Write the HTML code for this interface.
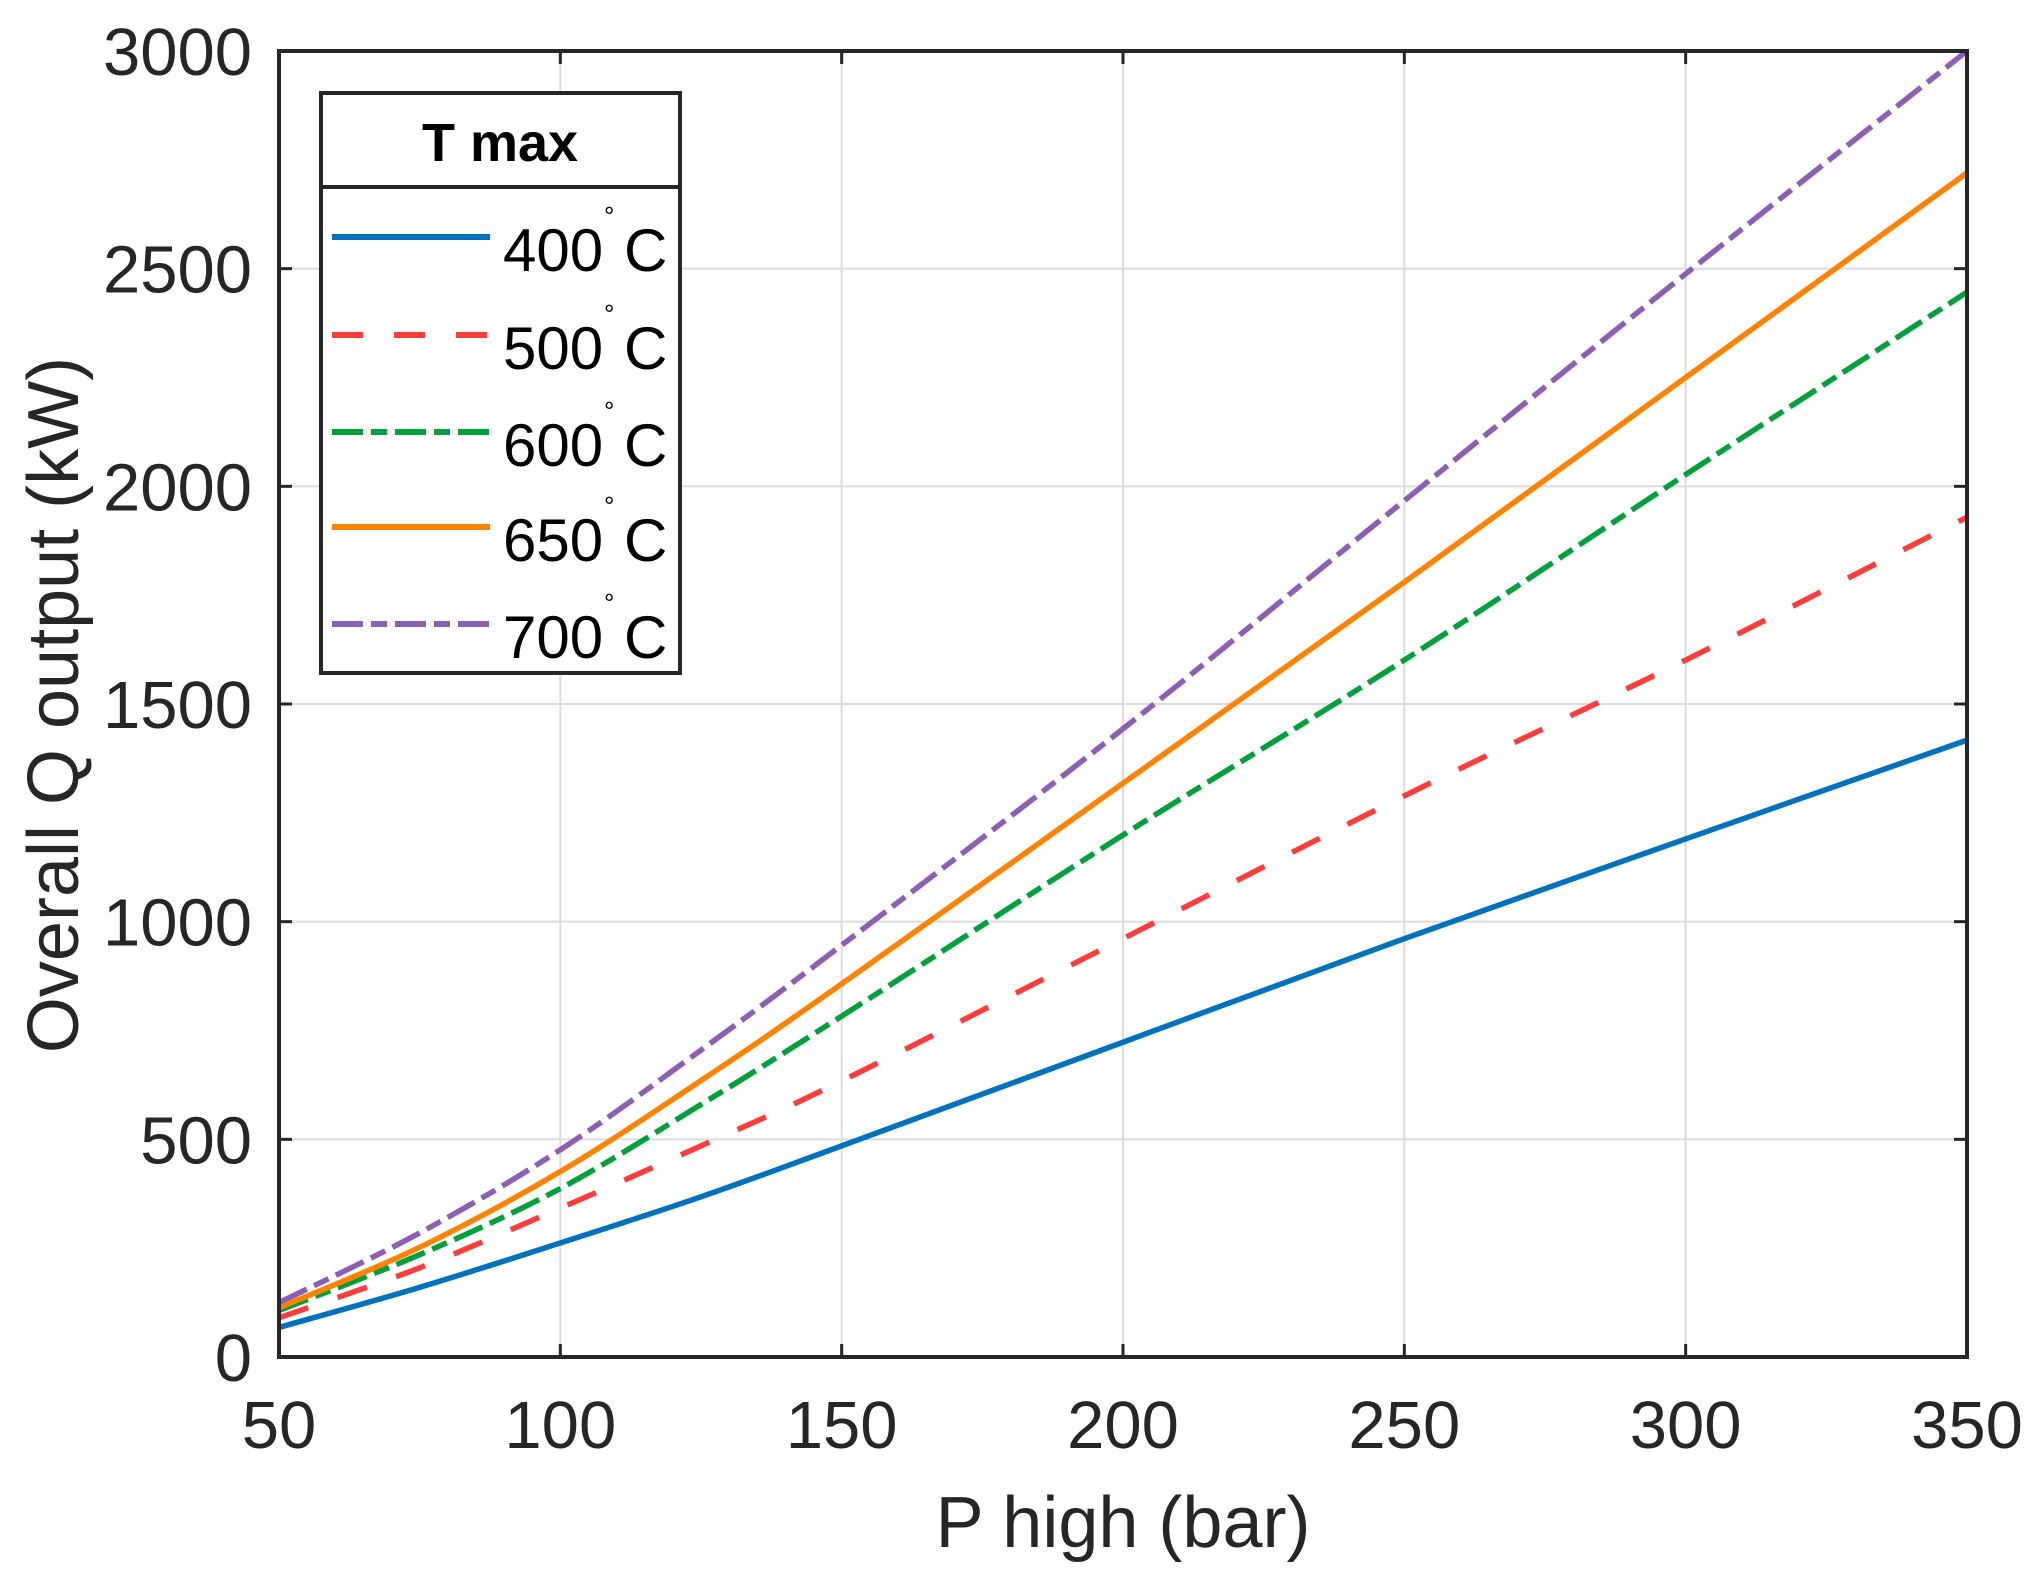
<!DOCTYPE html>
<html><head><meta charset="utf-8"><style>
html,body{margin:0;padding:0;background:#fff;}
svg{display:block;font-family:"Liberation Sans",Arial,sans-serif;}
</style></head><body>
<svg id="chart" width="2030" height="1584" xmlns="http://www.w3.org/2000/svg">
<g id="grid"></g>
<g id="series"></g>
<g id="axes"></g>
<g id="legend"></g>
</svg>
<script>
const xTicks = [50,100,150,200,250,300,350];
const yTicks = [0,500,1000,1500,2000,2500,3000];
const pressures = [50,75,100,125,150,200,250,300,350];
const q400 = [68,160,262,368,485,723,961,1190,1417];
const q500 = [90,205,342,485,634,961,1289,1601,1929];
const q600 = [107,235,387,580,783,1199,1601,2027,2446];
const q650 = [113,252,426,635,857,1318,1780,2250,2720];
const q700 = [125,285,476,705,946,1443,1967,2488,3000];
const seriesNames = ["400","500","600","650","700"];

const NS="http://www.w3.org/2000/svg";
const L=279,R=1967,T=51,B=1357;
const xS=v=>L+(v-50)/300*(R-L);
const yS=v=>B-v/3000*(B-T);
function mk(tag,attrs,parent){const e=document.createElementNS(NS,tag);for(const k in attrs)e.setAttribute(k,attrs[k]);parent.appendChild(e);return e;}
const grid=document.getElementById('grid'),axes=document.getElementById('axes'),ser=document.getElementById('series'),leg=document.getElementById('legend');

xTicks.forEach(t=>{
  const x=xS(t);
  const g=mk('line',{x1:x,x2:x,y1:T,y2:B,stroke:'#dcdcdc','stroke-width':2},grid);
  
  
  const tk=mk('line',{x1:x,x2:x,y1:B,y2:B-13,stroke:'#262626','stroke-width':3},axes);
  
  
  const tk2=mk('line',{x1:x,x2:x,y1:T,y2:T+13,stroke:'#262626','stroke-width':3},axes);
  
  
  const lb=mk('text',{x:x,y:1448,'font-size':67,fill:'#262626','text-anchor':'middle'},axes);
  lb.textContent=t;
  
  
});
yTicks.forEach(t=>{
  const y=yS(t);
  const g=mk('line',{x1:L,x2:R,y1:y,y2:y,stroke:'#dcdcdc','stroke-width':2},grid);
  
  
  const tk=mk('line',{x1:L,x2:L+13,y1:y,y2:y,stroke:'#262626','stroke-width':3},axes);
  
  
  const tk2=mk('line',{x1:R,x2:R-13,y1:y,y2:y,stroke:'#262626','stroke-width':3},axes);
  
  
  const lb=mk('text',{x:252,y:y+24,'font-size':67,fill:'#262626','text-anchor':'end'},axes);
  lb.textContent=t;
  
  
});
const frame=mk('rect',{x:L,y:T,width:R-L,height:B-T,fill:'none',stroke:'#262626','stroke-width':4},axes);


const xt=mk('text',{x:1123,y:1547,'font-size':72,fill:'#262626','text-anchor':'middle'},axes);
xt.textContent='P high (bar)';


const yt=mk('text',{x:0,y:0,'font-size':72,fill:'#262626','text-anchor':'middle',transform:'translate(78,705) rotate(-90)'},axes);
yt.textContent='Overall Q output (kW)';



const styles=[
  {c:'#0072BD',d:''},
  {c:'#FF3B3B',d:'31 31'},
  {c:'#00A03C',d:'31 8 16 8'},
  {c:'#FF8200',d:''},
  {c:'#8C5FB4',d:'31 8 16 8'}];
const data=[q400,q500,q600,q650,q700];
function smoothPath(pts){
  let d='M'+pts[0][0]+','+pts[0][1];
  for(let i=0;i<pts.length-1;i++){
    const p0=pts[Math.max(0,i-1)],p1=pts[i],p2=pts[i+1],p3=pts[Math.min(pts.length-1,i+2)];
    const c1x=p1[0]+(p2[0]-p0[0])/6,c1y=p1[1]+(p2[1]-p0[1])/6;
    const c2x=p2[0]-(p3[0]-p1[0])/6,c2y=p2[1]-(p3[1]-p1[1])/6;
    d+=' C'+c1x+','+c1y+' '+c2x+','+c2y+' '+p2[0]+','+p2[1];
  }
  return d;
}
data.forEach((vals,i)=>{
  const pts=vals.map((v,j)=>[xS(pressures[j]),yS(v)]);
  const p=mk('path',{d:smoothPath(pts),fill:'none',stroke:styles[i].c,'stroke-width':5.5,'stroke-dasharray':styles[i].d,'stroke-linejoin':'round'},ser);
  
  
});

const lb=mk('rect',{x:321,y:93,width:359,height:580,fill:'#fff',stroke:'#262626','stroke-width':4},leg);


const sep=mk('line',{x1:321,x2:680,y1:187,y2:187,stroke:'#262626','stroke-width':4},leg);


const lt=mk('text',{x:500,y:161,'font-size':54,'font-weight':'bold',fill:'#000','text-anchor':'middle'},leg);
lt.textContent='T max';


const ly=[237,335,432,527,624];
seriesNames.forEach((n,i)=>{
  const g=mk('g',{},leg);
  
  
  mk('line',{x1:332,x2:490,y1:ly[i],y2:ly[i],stroke:styles[i].c,'stroke-width':6,'stroke-dasharray':styles[i].d},g);
  const t=mk('text',{x:503,y:ly[i]+34,'font-size':60,fill:'#000'},g);
  t.textContent=n;
  
  
  const dg=mk('text',{x:604,y:ly[i]-12,'font-size':26,fill:'#000'},g);
  dg.textContent='°';
  
  
  const c=mk('text',{x:624,y:ly[i]+34,'font-size':60,fill:'#000'},g);
  c.textContent='C';
  
  
});
</script>
</body></html>
